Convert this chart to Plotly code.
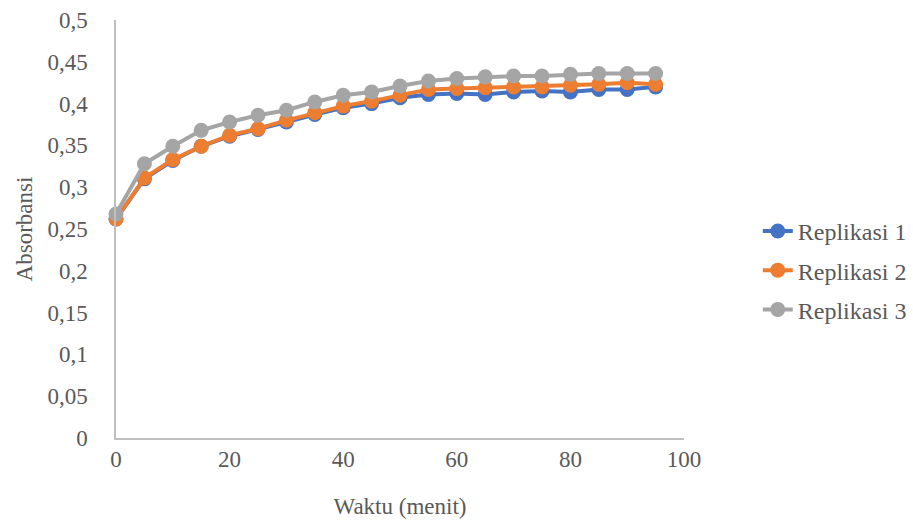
import plotly.graph_objects as go

waktu = [0, 5, 10, 15, 20, 25, 30, 35, 40, 45, 50, 55, 60, 65, 70, 75, 80, 85, 90, 95]
replikasi_1 = [0.262, 0.310, 0.332, 0.349, 0.361, 0.369, 0.378, 0.387, 0.395, 0.400, 0.407, 0.411, 0.412, 0.411, 0.414, 0.415, 0.414, 0.417, 0.417, 0.420]
replikasi_2 = [0.262, 0.311, 0.333, 0.349, 0.362, 0.370, 0.380, 0.389, 0.397, 0.403, 0.410, 0.417, 0.418, 0.419, 0.420, 0.420, 0.422, 0.423, 0.425, 0.423]
replikasi_3 = [0.268, 0.328, 0.349, 0.368, 0.378, 0.386, 0.392, 0.402, 0.410, 0.414, 0.421, 0.427, 0.430, 0.432, 0.433, 0.433, 0.435, 0.436, 0.436, 0.436]

series_names = ["Replikasi 1", "Replikasi 2", "Replikasi 3"]
series_colors = ["#4472C4", "#ED7D31", "#A5A5A5"]

y_tickvals = [0, 0.05, 0.1, 0.15, 0.2, 0.25, 0.3, 0.35, 0.4, 0.45, 0.5]
y_ticktext = ["0", "0,05", "0,1", "0,15", "0,2", "0,25", "0,3", "0,35", "0,4", "0,45", "0,5"]
x_tickvals = [0, 20, 40, 60, 80, 100]
x_ticktext = ["0", "20", "40", "60", "80", "100"]

font_family = "Liberation Serif, Times New Roman, serif"
text_color = "#595959"
fs = 23

fig = go.Figure()
for name, vals, color in zip(series_names, [replikasi_1, replikasi_2, replikasi_3], series_colors):
    fig.add_trace(go.Scatter(
        x=waktu, y=vals, name=name, mode="lines+markers", legendgroup=name,
        line=dict(color=color, width=4),
        marker=dict(color=color, size=15),
        cliponaxis=False,
    ))

fig.update_layout(
    width=913, height=525,
    margin=dict(l=116, r=229, t=20, b=87, autoexpand=False),
    paper_bgcolor="white", plot_bgcolor="white",
    font=dict(family=font_family, size=fs, color=text_color),
    showlegend=True,
    legend=dict(xref="container", yref="container", x=0.830, y=0.485,
                xanchor="left", yanchor="middle",
                font=dict(size=24, color=text_color), tracegroupgap=5,
                traceorder="grouped",
                bgcolor="rgba(0,0,0,0)"),
    xaxis=dict(
        range=[0, 100], tickvals=x_tickvals, ticktext=x_ticktext, automargin=False,
        showgrid=False, zeroline=False, showline=True, linecolor="#BFBFBF", linewidth=1.5,
        ticks="", ticklen=0, ticklabelstandoff=0,
        title=dict(text="Waktu (menit)", font=dict(size=fs, color=text_color), standoff=27),
    ),
    yaxis=dict(
        range=[0, 0.5], tickvals=y_tickvals, ticktext=y_ticktext, automargin=False,
        showgrid=False, zeroline=False, showline=True, linecolor="#BFBFBF", linewidth=1.5,
        ticks="", ticklen=0, ticklabelstandoff=22,
        title=dict(text="Absorbansi", font=dict(size=fs, color=text_color), standoff=8),
    ),
)

fig.write_html("out.html", config={"displayModeBar": False},
               post_script="document.body.style.margin='0';document.body.style.padding='0';")
